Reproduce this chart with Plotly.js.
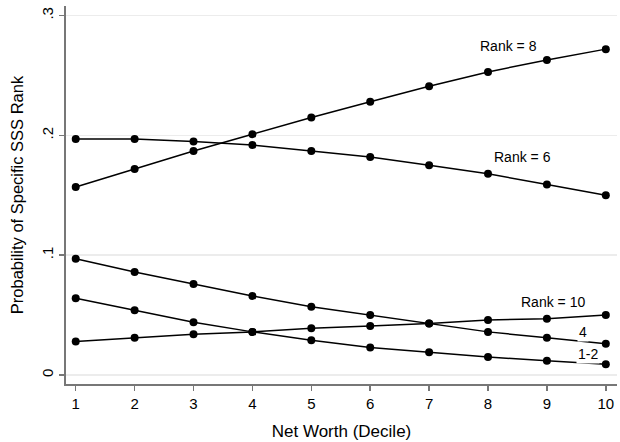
<!DOCTYPE html>
<html>
<head>
<meta charset="utf-8">
<script src="https://cdn.plot.ly/plotly-3.0.1.min.js"></script>
<style>html,body{margin:0;padding:0;background:#fff;}#chart{width:620px;height:442px;}</style>
</head>
<body>
<div id="chart"></div>
<script>
const deciles = [1,2,3,4,5,6,7,8,9,10];
const rank8  = [0.157,0.172,0.187,0.201,0.215,0.228,0.241,0.253,0.263,0.272];
const rank6  = [0.197,0.197,0.195,0.192,0.187,0.182,0.175,0.168,0.159,0.150];
const rank4  = [0.097,0.086,0.076,0.066,0.057,0.050,0.043,0.036,0.031,0.026];
const rank12 = [0.064,0.054,0.044,0.036,0.029,0.023,0.019,0.015,0.012,0.009];
const rank10 = [0.028,0.031,0.034,0.036,0.039,0.041,0.043,0.046,0.047,0.050];
const yTickVals = [0,0.1,0.2,0.3];
const yTickText = ['0','.1','.2','.3'];
const labels = [
  {text:'Rank = 8', x:8.34, y:0.275},
  {text:'Rank = 6', x:8.58, y:0.182},
  {text:'Rank = 10', x:9.10, y:0.061},
  {text:'4', x:9.62, y:0.036},
  {text:'1-2', x:9.70, y:0.0175}
];

const series = [rank8, rank6, rank4, rank12, rank10];
const traces = series.map(s => ({
  x: deciles, y: s, type:'scatter', mode:'lines+markers',
  line:{color:'#000', width:1.5},
  marker:{color:'#000', size:8},
  showlegend:false, hoverinfo:'skip'
}));

const font = {family:'Liberation Sans, Arial, sans-serif', color:'#000'};
const layout = {
  width:620, height:442,
  margin:{l:66, r:3, t:6, b:58},
  paper_bgcolor:'#fff', plot_bgcolor:'#fff',
  font: Object.assign({size:14}, font),
  showlegend:false,
  xaxis:{
    range:[0.835,10.19], tickvals:deciles, ticks:'outside', ticklen:5, tickwidth:1.5, tickcolor:'#777',
    showline:true, linecolor:'#777', linewidth:2, showgrid:false, zeroline:false,
    tickfont:Object.assign({size:15}, font),
    title:{text:'Net Worth (Decile)', font:Object.assign({size:17}, font), standoff:14}
  },
  yaxis:{
    range:[-0.0075,0.308], tickvals:yTickVals, ticktext:yTickText, tickangle:-90,
    ticks:'outside', ticklen:5, tickwidth:1.5, tickcolor:'#777',
    showline:true, linecolor:'#777', linewidth:2, showgrid:true, gridcolor:'#ececec', gridwidth:1.5, zeroline:false,
    tickfont:Object.assign({size:15}, font),
    title:{text:'Probability of Specific SSS Rank', font:Object.assign({size:16.5}, font), standoff:11}
  },
  annotations: labels.map(l => ({
    text:l.text, x:l.x, y:l.y, xref:'x', yref:'y', showarrow:false,
    font:Object.assign({size:14}, font), bgcolor:'#fff'
  }))
};
Plotly.newPlot('chart', traces, layout, {displayModeBar:false, staticPlot:true});
</script>
</body>
</html>
